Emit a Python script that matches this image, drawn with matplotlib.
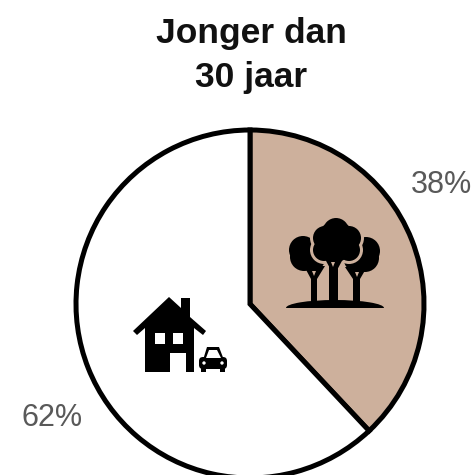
import matplotlib
matplotlib.use('Agg')
import matplotlib.pyplot as plt
from matplotlib.patches import Circle, Ellipse, Polygon, Rectangle, FancyBboxPatch

W, H = 474, 475

title = "Jonger dan\n30 jaar"
shares = [38, 62]
share_labels = ["38%", "62%"]
colors = ['#CDB09C', '#FFFFFF']

plt.rcParams['font.family'] = ['Liberation Sans', 'DejaVu Sans']

fig = plt.figure(figsize=(W / 100, H / 100), dpi=100)
ax = fig.add_axes([0, 0, 1, 1])


def Y(y):
    # icons are laid out with y counted from the top
    return H - y


def poly(points, color='black', z=5):
    ax.add_patch(Polygon([(x, Y(y)) for x, y in points], closed=True, fc=color, ec='none', zorder=z))


def box(x0, y0, x1, y1, color='black', z=5):
    ax.add_patch(Rectangle((x0, Y(y1)), x1 - x0, y1 - y0, fc=color, ec='none', zorder=z))


def blob(x, y, r, color='black', z=5):
    ax.add_patch(Circle((x, Y(y)), r, fc=color, ec='none', zorder=z))


# pie
ax.pie(shares, colors=colors, startangle=90, counterclock=False,
       center=(250, Y(304)), radius=174,
       wedgeprops=dict(edgecolor='black', linewidth=3.6, joinstyle='miter'))
ax.set_xlim(0, W)
ax.set_ylim(0, H)
ax.set_aspect('auto')
ax.axis('off')

# side trees
for cx, cy, r in [(303, 250, 14), (304, 257, 14), (314, 259, 11),
                  (366, 251, 14), (365, 258, 14), (355, 260, 11)]:
    blob(cx, cy, r)

# big tree on top, with a pale outline around the crown
crown = [(336, 231, 13), (325, 238, 12), (349, 238, 12), (336, 247, 15),
         (324, 250, 11), (349, 250, 11), (336, 240, 19)]
for cx, cy, r in crown:
    blob(cx, cy, r + 3, colors[0], z=6)
for cx, cy, r in crown:
    blob(cx, cy, r, z=7)

# trunks and forks
box(329.5, 258, 338, 306, z=7)
poly([(325, 259), (332, 272), (336, 272), (343, 259)], z=7)
poly([(331, 262), (333, 267), (335, 262)], colors[0], z=8)
box(311, 272, 317, 306)
poly([(304, 266), (311, 279), (317, 279), (325, 266)])
poly([(312, 271), (314, 276), (316, 271)], colors[0], z=6)
box(353, 272, 360, 306)
poly([(345, 267), (353, 279), (360, 279), (367, 267)])
poly([(355, 272), (357, 277), (359, 272)], colors[0], z=6)

# ground
ax.add_patch(Ellipse((335, Y(308)), 98, 16, fc='black', ec='none', zorder=6))
box(280, 308, 390, 318, colors[0], z=8)

# house
poly([(169, 297), (181, 308), (181, 298), (190, 298), (190, 317), (206, 331), (203, 335),
      (194, 328), (194, 372), (145, 372), (145, 328), (137, 335), (133, 331)])
box(155, 333, 165, 344, 'white', z=6)
box(173, 333, 183, 344, 'white', z=6)
box(170, 353, 186, 372, 'white', z=6)

# car
ax.add_patch(FancyBboxPatch((199, Y(369)), 28, 12, boxstyle='round,pad=0,rounding_size=4',
                            fc='black', ec='none', zorder=6))
poly([(203, 360), (207, 347), (219, 347), (224, 360)], z=6)
poly([(206, 358), (209, 350), (217, 350), (221, 358)], 'white', z=7)
box(201, 368, 206, 372, z=6)
box(220, 368, 225, 372, z=6)
blob(204, 363, 1.7, 'white', z=7)
blob(222, 363, 1.7, 'white', z=7)

# texts
ax.text(251, Y(55.5), title, ha='center', va='center', fontsize=25.5, fontweight='bold',
        color='#111111', linespacing=1.4)
ax.text(441, Y(185), share_labels[0], ha='center', va='center', fontsize=22, color='#595959')
ax.text(52, Y(418), share_labels[1], ha='center', va='center', fontsize=22, color='#595959')

fig.savefig('out.png', dpi=100, facecolor='white')
